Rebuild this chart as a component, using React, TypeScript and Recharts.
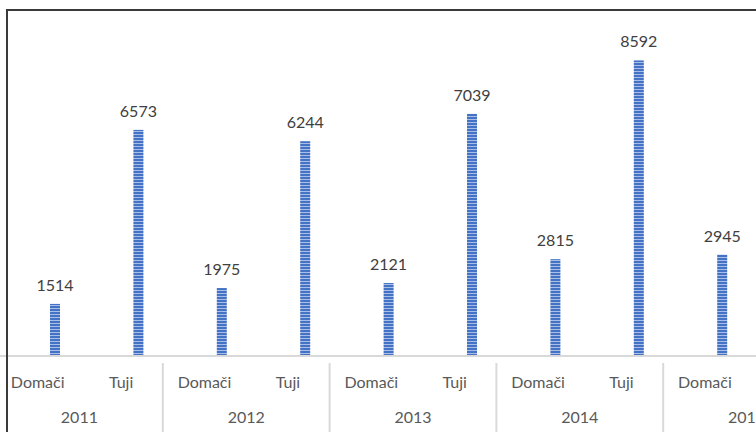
import React from 'react';
import { BarChart, Bar, XAxis, YAxis, LabelList } from 'recharts';

const years = ['2011', '2012', '2013', '2014', '2015'];
const subCategories = ['Domači', 'Tuji'];
const domaci = [1514, 1975, 2121, 2815, 2945];
const tuji: (number | null)[] = [6573, 6244, 7039, 8592, null];

const rows: { cat: string; year: string; value: number | null }[] = [];
years.forEach((y, i) => {
  rows.push({ cat: subCategories[0], year: y, value: domaci[i] });
  rows.push({ cat: subCategories[1], year: y, value: tuji[i] });
});
const data = rows.map((r, i) => ({ ...r, key: `${r.year}-${r.cat}-${i}` }));

const CHART_W = 860;
const CHART_H = 432;
const M = { top: 12, right: 13, bottom: 0, left: 13 };
const AXIS_H = 76;
const plotW = CHART_W - M.left - M.right;
const band = plotW / data.length;
const FONT = 'Lato, "Open Sans", sans-serif';

const StripedBar = (props: any) => {
  const { x, y, width, height } = props;
  if (!height || height <= 0) return null;
  return <rect x={x} y={y} width={width} height={height} fill="url(#barStripes)" />;
};

const Tick = (props: any) => {
  const { x, y, payload } = props;
  const idx = payload.index;
  const row = data[idx];
  const isFirst = idx % 2 === 0;
  const isLast = idx === data.length - 1;
  return (
    <g>
      <text x={x} y={y + 24} textAnchor="middle" fontSize={16} fill="#595959" fontFamily={FONT}>
        {row ? row.cat : ''}
      </text>
      {isFirst && (
        <>
          <line x1={x - band / 2} x2={x - band / 2} y1={y - 1} y2={y + 80} stroke="#d9d9d9" strokeWidth={2} />
          <text x={x + band / 2} y={y + 59} textAnchor="middle" fontSize={16} fill="#595959" fontFamily={FONT}>
            {row ? row.year : ''}
          </text>
        </>
      )}
      {isLast && (
        <line x1={x + band / 2} x2={x + band / 2} y1={y - 1} y2={y + 80} stroke="#d9d9d9" strokeWidth={2} />
      )}
    </g>
  );
};

export default function App() {
  return (
    <div
      style={{
        position: 'absolute',
        left: 0,
        top: 0,
        width: 756,
        height: 432,
        overflow: 'hidden',
        background: '#ffffff',
      }}
    >
      <svg width={0} height={0} style={{ position: 'absolute' }}>
        <defs>
          <pattern id="barStripes" patternUnits="userSpaceOnUse" width={10} height={3}>
            <rect x={0} y={0} width={10} height={3} fill="#4472c4" />
            <rect x={0} y={2} width={10} height={1} fill="#a9bee6" />
          </pattern>
        </defs>
      </svg>
      <div style={{ position: 'absolute', left: -17, top: 0 }}>
        <BarChart
          width={CHART_W}
          height={CHART_H}
          data={data}
          margin={M}
          barSize={10}
          barGap={24}
          barCategoryGap={0}
        >
          <YAxis hide domain={[0, 10000]} />
          <XAxis
            dataKey="key"
            interval={0}
            height={AXIS_H}
            tickLine={false}
            axisLine={{ stroke: '#d9d9d9', strokeWidth: 2 }}
            tick={<Tick />}
          />
          <Bar dataKey="none" isAnimationActive={false} fill="transparent" />
          <Bar dataKey="value" isAnimationActive={false} shape={<StripedBar />}>
            <LabelList
              dataKey="value"
              position="top"
              offset={13}
              fill="#404040"
              fontSize={16}
              fontFamily={FONT}
            />
          </Bar>
        </BarChart>
      </div>
      <div
        style={{
          position: 'absolute',
          left: 6,
          top: 9,
          width: 900,
          height: 600,
          borderLeft: '2px solid #3a3a3a',
          borderTop: '2px solid #3a3a3a',
        }}
      />
    </div>
  );
}
